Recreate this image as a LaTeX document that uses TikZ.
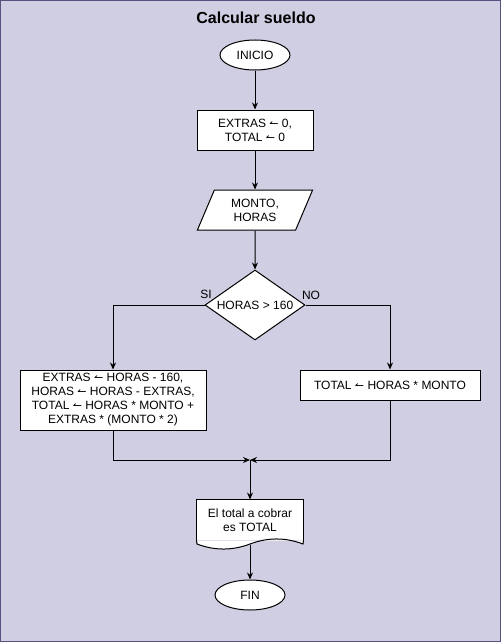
\documentclass[tikz,border=0pt]{standalone}
\usepackage{fontspec}
\setmainfont{Liberation Sans}
\newfontfamily\symfont{DejaVu Sans}
\usetikzlibrary{arrows.meta,shapes.geometric}
\definecolor{lila}{HTML}{D0CEE2}
\definecolor{borde}{HTML}{56517E}
\newcommand{\asig}{{\symfont\fontsize{11}{14}\selectfont ↼}}
\tikzset{
  base/.style={line width=1pt, align=center, fill=white, font=\fontsize{12}{14}\selectfont},
  terminal/.style={base, draw, ellipse, minimum width=70pt, minimum height=30pt, inner sep=0pt},
  proceso/.style={base, draw, rectangle, inner sep=2pt},
  datos/.style={base, draw, trapezium, trapezium left angle=67, trapezium right angle=113, minimum width=115pt, minimum height=40pt, inner sep=1pt},
  decision/.style={base, draw, diamond, aspect=1.4, minimum width=100pt, minimum height=70pt, inner sep=0pt},
  documento/.style={base, draw=none, minimum width=106pt, minimum height=40pt},
  etiqueta/.style={font=\fontsize{12}{14}\selectfont, inner sep=0pt},
  contorno/.style={line width=1pt},
  flecha/.style={-{Stealth[length=7pt,width=6pt]}, line width=1pt}
}

\begin{document}
\begin{tikzpicture}[x=1pt, y=-1pt]
  \draw[borde, fill=lila, line width=1pt] (0.5,0.5) rectangle (500.5,641.5);
  \node[font=\bfseries\fontsize{16}{19}\selectfont] (titulo) at (256,18) {Calcular sueldo};
  \node[terminal] (inicio) at (255,55) {INICIO};
  \node[proceso, minimum width=116pt, minimum height=40pt] (iniciar) at (255,130) {EXTRAS \asig{} 0,\\TOTAL \asig{} 0};
  \node[datos] (leer) at (255,210) {MONTO,\\HORAS};
  \node[decision] (cond) at (255,305) {HORAS > 160};
  \node[etiqueta] (si) at (206,294) {SI};
  \node[etiqueta] (no) at (311,295) {NO};
  \node[proceso, minimum width=186pt, minimum height=60pt] (extras) at (113,400) {EXTRAS \asig{} HORAS - 160,\\HORAS \asig{} HORAS - EXTRAS,\\TOTAL \asig{} HORAS * MONTO +\\EXTRAS * (MONTO * 2)};
  \node[proceso, minimum width=180pt, minimum height=30pt] (total) at (390,385) {TOTAL \asig{} HORAS * MONTO};
  \coordinate (union) at (250,460);
  \node[documento] (salida) at (250,520) {El total a cobrar\\es TOTAL};
  \draw[contorno] (salida.south west) -- (salida.north west) -- (salida.north east) -- (salida.south east);
  \draw[contorno, fill=white] (salida.south east) -- (303,544) .. controls (285.3,537.3) and (267.7,537.3) .. (250,544)
    .. controls (232.3,550.7) and (214.7,550.7) .. (197,544) -- (salida.south west);
  \node[terminal] (fin) at (250,595) {FIN};
  \draw[flecha] (inicio) -- (iniciar);
  \draw[flecha] (iniciar) -- (leer);
  \draw[flecha] (leer) -- (cond);
  \draw[flecha] (cond.west) -| (extras);
  \draw[flecha] (cond.east) -| (total);
  \draw[flecha] (extras) |- (union);
  \draw[flecha] (total) |- (union);
  \draw[flecha] (union) -- (salida);
  \draw[flecha] ([yshift=-4pt]salida.south) -- (fin);
\end{tikzpicture}
\end{document}
